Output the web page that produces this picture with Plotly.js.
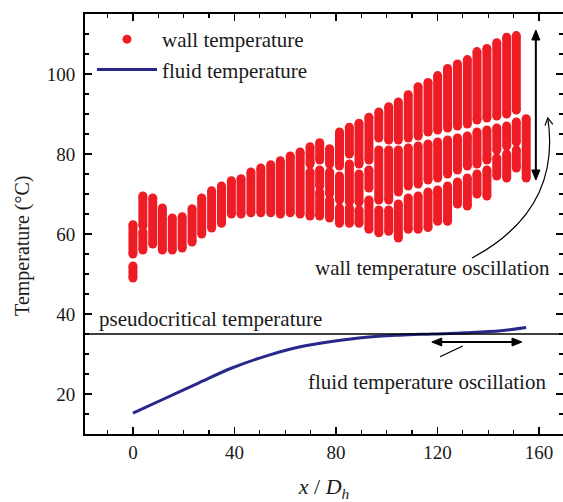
<!DOCTYPE html>
<html>
<head>
<meta charset="utf-8">
<script src="https://cdn.plot.ly/plotly-3.0.1.min.js"></script>
<style>
  html, body { margin: 0; padding: 0; background: #fff; }
  #chart { width: 563px; height: 502px; }
</style>
</head>
<body>
<div id="chart"></div>
<script>
// ---- data ----
// x / D_h position of each wall-temperature column
const colX = [0, 3.9, 7.8, 11.6, 15.5, 19.4, 23.3, 27.1, 31, 34.9,
  38.8, 42.6, 46.5, 50.4, 54.3, 58.1, 62, 65.9, 69.8, 73.6,
  77.5, 81.4, 85.3, 89.1, 93, 96.9, 100.8, 104.6, 108.5, 112.4,
  116.3, 120.1, 124, 127.9, 131.8, 135.6, 139.5, 143.4, 147.3, 151.1, 155];
// wall temperature ranges (°C) occupied by the dots in each column: [low, high]
const colSegments = [
  [[49, 52], [55, 62.3]],
  [[56, 60.5], [62, 69.5]],
  [[57.5, 69]],
  [[56, 66.5]],
  [[56, 64]],
  [[56.5, 64.3]],
  [[58, 66.3]],
  [[60, 69]],
  [[61.5, 70.8]],
  [[62.7, 72]],
  [[65, 73.3]],
  [[65, 73.8]],
  [[65.3, 75.5]],
  [[65.3, 76.5]],
  [[65.3, 77.3]],
  [[65, 78.3]],
  [[65.3, 79.5]],
  [[65, 80.5]],
  [[64.5, 75.5], [77.5, 81.8]],
  [[64.5, 70.5], [72, 76], [78.5, 82.8]],
  [[64, 68.5], [70, 75.5], [77.5, 81.3]],
  [[62.7, 66.5], [68.5, 74.5], [77, 85.5]],
  [[62.7, 66.5], [68, 77.5], [80, 86.7]],
  [[62.7, 66], [68, 75], [77.5, 87.7]],
  [[61.2, 68.5], [71.5, 76], [78.5, 89.2]],
  [[60.3, 66], [68.5, 81], [84, 90.5]],
  [[60.7, 66], [68.5, 81], [83.5, 91.8]],
  [[59, 67.5], [70.5, 81], [83.5, 93]],
  [[61.2, 69], [72, 81.5], [84, 94.8]],
  [[61.2, 69.5], [72.5, 82], [84.5, 96.8]],
  [[61.6, 70.5], [73.5, 82.5], [85.5, 97.9]],
  [[63.2, 71], [74, 83], [86, 99.6]],
  [[63.2, 72], [75, 83.5], [86.5, 101.4]],
  [[67.5, 73], [76, 84], [87, 102.5]],
  [[67, 74], [77, 84.5], [87.5, 103.6]],
  [[70, 75], [77.5, 85.5], [88.5, 105.6]],
  [[69.5, 76], [78.5, 86], [89, 106.4]],
  [[74.5, 79], [81, 86.5], [89.5, 107.8]],
  [[74, 80], [82, 87], [90, 109.2]],
  [[76.5, 81], [83, 88], [91, 109.6]],
  [[74, 88.8]]
];
// fluid temperature along the channel
const fluidX = [0, 13, 26, 39, 53, 66, 79, 92, 105, 118, 131, 145, 155];
const fluidT = [15.2, 19, 22.8, 26.5, 29.6, 31.8, 33.2, 34.2, 34.7, 35.0, 35.3, 35.8, 36.6];
const pseudocriticalT = 35;
const xTicks = [0, 40, 80, 120, 160];
const yTicks = [20, 40, 60, 80, 100];

// ---- build traces ----
const segX = [], segY = [], endX = [], endY = [];
colX.forEach((x, i) => {
  colSegments[i].forEach(([lo, hi]) => {
    segX.push(x, x, null); segY.push(lo, hi, null);
    endX.push(x, x); endY.push(lo, hi);
  });
});

const RED = '#ee1c25';
const FONT = '"Liberation Serif", "Times New Roman", serif';
const TXT = '#1a1a1a';

const traces = [
  { x: segX, y: segY, mode: 'lines', line: { color: RED, width: 9 },
    showlegend: false, hoverinfo: 'skip' },
  { x: endX, y: endY, mode: 'markers', name: 'wall temperature',
    marker: { color: RED, size: 9 } },
  { x: fluidX, y: fluidT, mode: 'lines', name: 'fluid temperature',
    line: { color: '#27288a', width: 3, shape: 'spline' } }
];

const axisCommon = {
  showgrid: false, zeroline: false, showline: true, linecolor: '#000', linewidth: 2,
  mirror: 'ticks', ticks: 'inside', ticklen: 7, tickwidth: 1.5, tickcolor: '#000',
  tickfont: { family: FONT, size: 19, color: TXT },
  minor: { ticks: 'inside', ticklen: 4, tickwidth: 1.2, tickcolor: '#000' }
};

// arrow geometry (annotation marks, data units)
const vArrow = { x: 158.8, y0: 73.5, y1: 111 };
const hArrow = { y: 33, x0: 117.8, x1: 153.3 };
const headLenX = 3.9, headHalfX = 1.6, headLenY = 2.5, headHalfY = 1.0;

const layout = {
  width: 563, height: 502,
  margin: { l: 85, r: 0, t: 14, b: 68 },
  paper_bgcolor: '#fff', plot_bgcolor: '#fff',
  font: { family: FONT, color: TXT },
  xaxis: Object.assign({}, axisCommon, {
    range: [-18.9, 169.5], tickvals: xTicks, ticktext: xTicks.map(String),
    minor: Object.assign({}, axisCommon.minor, { dtick: 10, tick0: 0 }),
    title: { text: '<i>x</i> / <i>D<sub>h</sub></i>', font: { family: FONT, size: 22, color: TXT }, standoff: 30 }
  }),
  yaxis: Object.assign({}, axisCommon, {
    range: [10, 115], tickvals: yTicks, ticktext: yTicks.map(String),
    ticklabelstandoff: 4,
    minor: Object.assign({}, axisCommon.minor, { dtick: 5, tick0: 0 })
  }),
  legend: {
    x: 0.0146, y: 0.988, xanchor: 'left', yanchor: 'top',
    bgcolor: 'rgba(0,0,0,0)', font: { family: FONT, size: 21, color: TXT },
    itemwidth: 60, tracegroupgap: 0
  },
  shapes: [
    { type: 'line', xref: 'paper', x0: 0, x1: 1, yref: 'y', y0: pseudocriticalT, y1: pseudocriticalT,
      line: { color: '#000', width: 1.5 } },
    // vertical double arrow
    { type: 'line', xref: 'x', yref: 'y', x0: vArrow.x, x1: vArrow.x, y0: vArrow.y0 + headLenY, y1: vArrow.y1 - headLenY,
      line: { color: '#000', width: 2 } },
    { type: 'path', xref: 'x', yref: 'y', fillcolor: '#000', line: { color: '#000', width: 1 },
      path: `M ${vArrow.x} ${vArrow.y1} L ${vArrow.x - headHalfX} ${vArrow.y1 - headLenY} L ${vArrow.x + headHalfX} ${vArrow.y1 - headLenY} Z` },
    { type: 'path', xref: 'x', yref: 'y', fillcolor: '#000', line: { color: '#000', width: 1 },
      path: `M ${vArrow.x} ${vArrow.y0} L ${vArrow.x - headHalfX} ${vArrow.y0 + headLenY} L ${vArrow.x + headHalfX} ${vArrow.y0 + headLenY} Z` },
    // horizontal double arrow
    { type: 'line', xref: 'x', yref: 'y', x0: hArrow.x0 + headLenX, x1: hArrow.x1 - headLenX, y0: hArrow.y, y1: hArrow.y,
      line: { color: '#000', width: 2 } },
    { type: 'path', xref: 'x', yref: 'y', fillcolor: '#000', line: { color: '#000', width: 1 },
      path: `M ${hArrow.x1} ${hArrow.y} L ${hArrow.x1 - headLenX} ${hArrow.y + headHalfY} L ${hArrow.x1 - headLenX} ${hArrow.y - headHalfY} Z` },
    { type: 'path', xref: 'x', yref: 'y', fillcolor: '#000', line: { color: '#000', width: 1 },
      path: `M ${hArrow.x0} ${hArrow.y} L ${hArrow.x0 + headLenX} ${hArrow.y + headHalfY} L ${hArrow.x0 + headLenX} ${hArrow.y - headHalfY} Z` },
    // curved pointer to the wall oscillation arrow
    { type: 'path', xref: 'x', yref: 'y',
      path: 'M 133.6 54 Q 169 66 163.5 89', line: { color: '#000', width: 1.2 } },
    { type: 'path', xref: 'x', yref: 'y',
      path: 'M 165.5 87.4 L 163.5 89 L 162.4 87.1', line: { color: '#000', width: 1.2 } },
    // pointer from fluid text to the horizontal arrow
    { type: 'line', xref: 'x', yref: 'y', x0: 121, y0: 29.3, x1: 130, y1: 32,
      line: { color: '#000', width: 1.2 } }
  ],
  annotations: [
    { x: -0.132, y: 57, xref: 'paper', yref: 'y', textangle: -90, xanchor: 'center', yanchor: 'middle',
      text: 'Temperature (\u00B0C)', showarrow: false, font: { family: FONT, size: 20, color: TXT } },
    { x: -14.2, y: 38.75, xref: 'x', yref: 'y', xanchor: 'left', yanchor: 'middle',
      text: 'pseudocritical temperature', showarrow: false, font: { family: FONT, size: 21, color: TXT } },
    { x: 118.2, y: 51.5, xref: 'x', yref: 'y', xanchor: 'center', yanchor: 'middle',
      text: 'wall temperature oscillation', showarrow: false, font: { family: FONT, size: 21, color: TXT } },
    { x: 115.9, y: 23, xref: 'x', yref: 'y', xanchor: 'center', yanchor: 'middle',
      text: 'fluid temperature oscillation', showarrow: false, font: { family: FONT, size: 21, color: TXT } }
  ]
};

Plotly.newPlot('chart', traces, layout, { staticPlot: true, displayModeBar: false });
</script>
</body>
</html>
